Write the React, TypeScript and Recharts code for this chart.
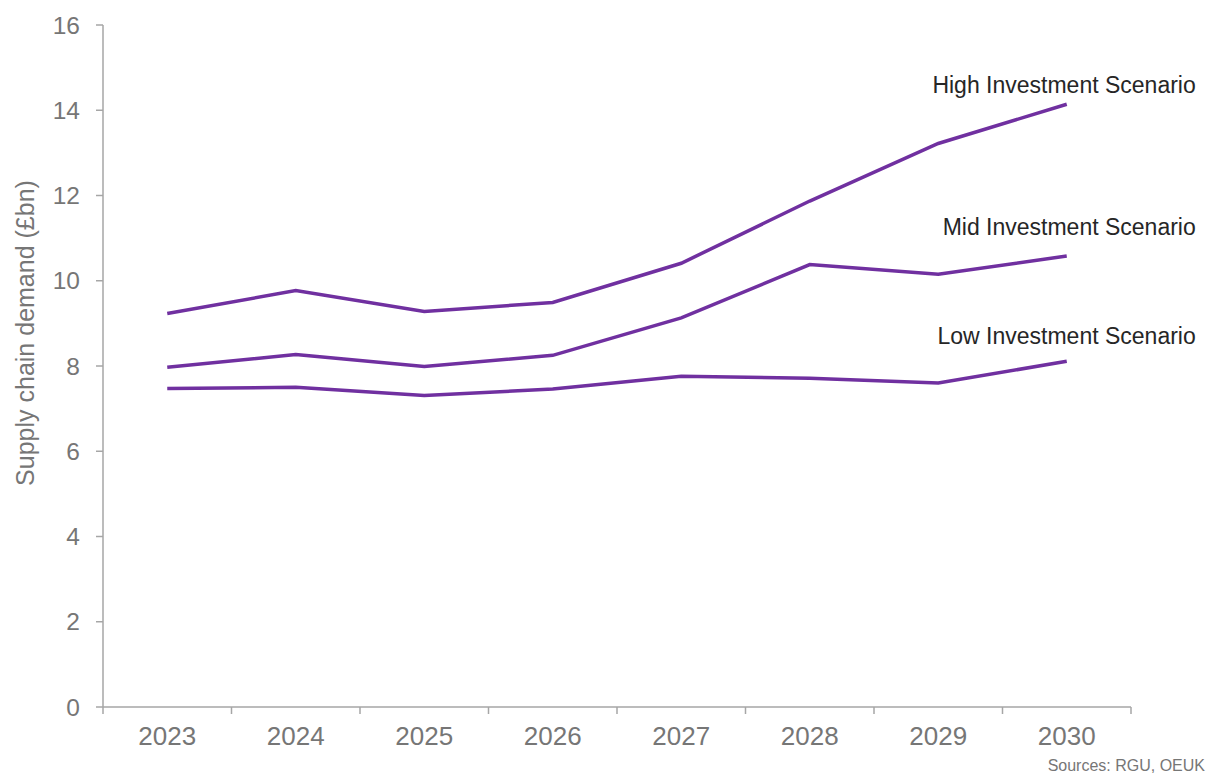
import React from 'react'
import { LineChart, Line, XAxis, YAxis, LabelList } from 'recharts'

const years = ['2023', '2024', '2025', '2026', '2027', '2028', '2029', '2030']
const highScenario = [9.23, 9.77, 9.28, 9.49, 10.41, 11.87, 13.22, 14.14]
const midScenario = [7.97, 8.27, 7.99, 8.25, 9.13, 10.38, 10.15, 10.58]
const lowScenario = [7.47, 7.5, 7.31, 7.46, 7.76, 7.71, 7.6, 8.11]
const yTicks = [0, 2, 4, 6, 8, 10, 12, 14, 16]

const seriesNames = {
    high: 'High Investment Scenario',
    mid: 'Mid Investment Scenario',
    low: 'Low Investment Scenario',
}

// how far above the last point each end label sits
const labelLift = { high: 19, mid: 29, low: 25 }

const data = years.map((year, i) => ({
    year,
    high: highScenario[i],
    mid: midScenario[i],
    low: lowScenario[i],
}))

const FONT = '"Liberation Sans", Arial, sans-serif'
const PURPLE = '#7030a0'
const AXIS_GREY = '#a6a6a6'
const TICK_GREY = '#767676'

const CHART_W = 1208
const CHART_H = 775
const Y_AXIS_W = 103
const RIGHT_MARGIN = 77
const TICK_SIZE = 7
const TICK_GAP = 13
const BAND = (CHART_W - Y_AXIS_W - RIGHT_MARGIN) / years.length

const endLabel = (key: 'high' | 'mid' | 'low') => (props: any) => {
    const { x, y, index } = props
    if (index !== years.length - 1) return null
    return (
        <text
            x={x + 129}
            y={y - labelLift[key]}
            textAnchor="end"
            dominantBaseline="central"
            fontSize={23}
            fontFamily={FONT}
            fill="#262626"
        >
            {seriesNames[key]}
        </text>
    )
}

// year label plus tick marks on the category boundaries (Excel style)
const YearTick = (props: any) => {
    const { x, y, payload, index } = props
    const axisY = y - TICK_SIZE - TICK_GAP
    const edges = [x - BAND / 2]
    if (index === years.length - 1) edges.push(x + BAND / 2)
    return (
        <g>
            {edges.map((ex, i) => (
                <line
                    key={i}
                    x1={ex}
                    x2={ex}
                    y1={axisY}
                    y2={axisY + TICK_SIZE}
                    stroke={AXIS_GREY}
                    strokeWidth={1.5}
                />
            ))}
            <text
                x={x}
                y={y}
                dy="0.71em"
                textAnchor="middle"
                fontSize={26}
                fontFamily={FONT}
                fill={TICK_GREY}
            >
                {payload.value}
            </text>
        </g>
    )
}

const YLabel = (props: any) => {
    const { viewBox } = props
    const cx = viewBox.x + 25
    const cy = viewBox.y + viewBox.height / 2 - 33
    return (
        <text
            x={cx}
            y={cy}
            dy="0.35em"
            textAnchor="middle"
            transform={`rotate(-90, ${cx}, ${cy})`}
            fontSize={25}
            fontFamily={FONT}
            fill={TICK_GREY}
        >
            Supply chain demand (£bn)
        </text>
    )
}

const App: React.FC = () => {
    return (
        <div
            style={{
                position: 'absolute',
                left: 0,
                top: 0,
                width: CHART_W,
                height: CHART_H,
                background: '#fff',
                fontFamily: FONT,
            }}
        >
            <LineChart
                width={CHART_W}
                height={CHART_H}
                data={data}
                margin={{ top: 25, right: RIGHT_MARGIN, bottom: 0, left: 0 }}
            >
                <XAxis
                    dataKey="year"
                    height={68}
                    padding={{ left: BAND / 2, right: BAND / 2 }}
                    axisLine={{ stroke: AXIS_GREY, strokeWidth: 1.5 }}
                    tickLine={false}
                    tickSize={TICK_SIZE}
                    tickMargin={TICK_GAP}
                    tick={<YearTick />}
                    interval={0}
                />
                <YAxis
                    width={Y_AXIS_W}
                    domain={[0, 16]}
                    ticks={yTicks}
                    interval={0}
                    tickSize={TICK_SIZE}
                    tickMargin={16}
                    axisLine={{ stroke: AXIS_GREY, strokeWidth: 1.5 }}
                    tickLine={{ stroke: AXIS_GREY, strokeWidth: 1.5 }}
                    tick={{ fontSize: 24.5, fill: TICK_GREY, fontFamily: FONT }}
                    label={<YLabel />}
                />
                {(['high', 'mid', 'low'] as const).map((key) => (
                    <Line
                        key={key}
                        type="linear"
                        dataKey={key}
                        stroke={PURPLE}
                        strokeWidth={3.5}
                        dot={false}
                        activeDot={false}
                        isAnimationActive={false}
                    >
                        <LabelList dataKey={key} content={endLabel(key)} />
                    </Line>
                ))}
            </LineChart>
            <div
                style={{
                    position: 'absolute',
                    right: 3,
                    top: 757,
                    fontSize: 16,
                    color: TICK_GREY,
                    fontFamily: FONT,
                    whiteSpace: 'nowrap',
                }}
            >
                Sources: RGU, OEUK
            </div>
        </div>
    )
}

export default App
